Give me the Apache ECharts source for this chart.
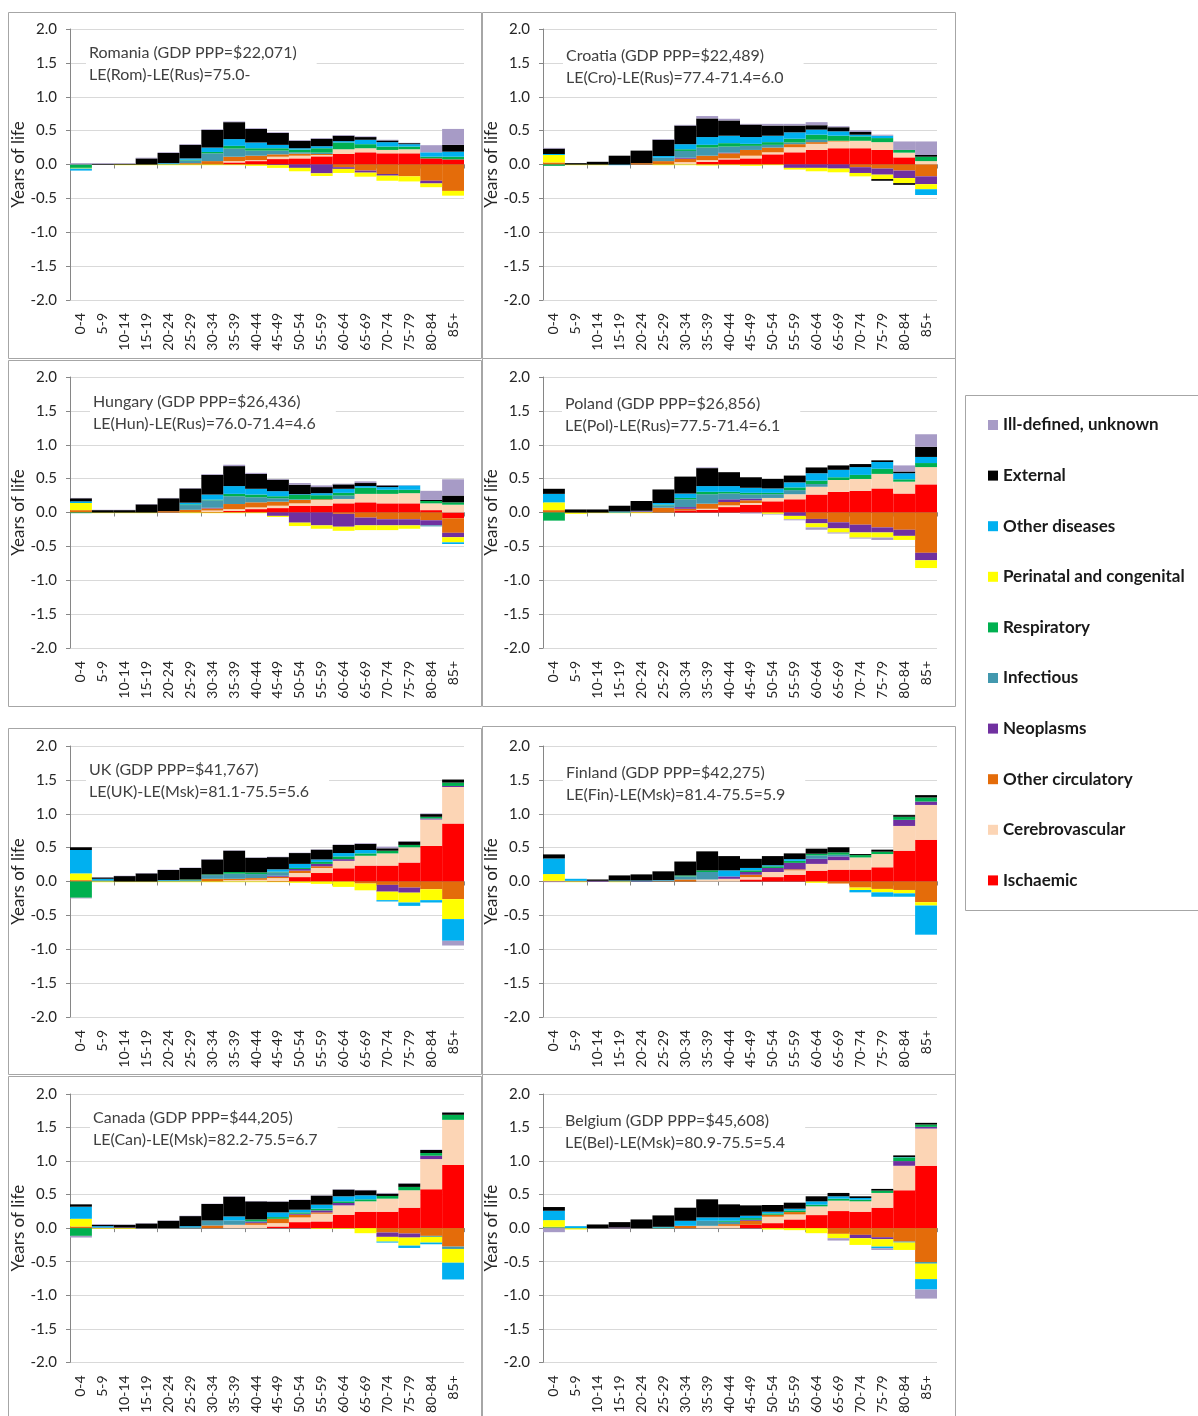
<!DOCTYPE html>
<html>
<head>
<meta charset="utf-8">
<title>Life expectancy gap by age and cause</title>
<script src="https://cdn.jsdelivr.net/npm/echarts@6/dist/echarts.min.js"></script>
<style>
    html, body { margin: 0; padding: 0; background: #fff; }
    #chart { width: 1198px; height: 1416px; }
</style>
</head>
<body>
<div id="chart"></div>
<script>
var ages = ['0-4', '5-9', '10-14', '15-19', '20-24', '25-29', '30-34', '35-39', '40-44',
    '45-49', '50-54', '55-59', '60-64', '65-69', '70-74', '75-79', '80-84', '85+'];

// stacking order, from the zero line outwards
var causes = ['Ischaemic', 'Cerebrovascular', 'Other circulatory', 'Neoplasms', 'Infectious',
    'Respiratory', 'Perinatal and congenital', 'Other diseases', 'External', 'Ill-defined, unknown'];
var causeColors = ['#ff0000', '#fcd5b5', '#e46c0a', '#7030a0', '#4298ae',
    '#00b050', '#ffff00', '#00b0f0', '#000000', '#a79bc6'];

var panelTitles = [
    'Romania (GDP PPP=$22,071)', 'Croatia (GDP PPP=$22,489)',
    'Hungary (GDP PPP=$26,436)', 'Poland (GDP PPP=$26,856)',
    'UK (GDP PPP=$41,767)', 'Finland (GDP PPP=$42,275)',
    'Canada (GDP PPP=$44,205)', 'Belgium (GDP PPP=$45,608)'
];
var panelNotes = [
    'LE(Rom)-LE(Rus)=75.0-', 'LE(Cro)-LE(Rus)=77.4-71.4=6.0',
    'LE(Hun)-LE(Rus)=76.0-71.4=4.6', 'LE(Pol)-LE(Rus)=77.5-71.4=6.1',
    'LE(UK)-LE(Msk)=81.1-75.5=5.6', 'LE(Fin)-LE(Msk)=81.4-75.5=5.9',
    'LE(Can)-LE(Msk)=82.2-75.5=6.7', 'LE(Bel)-LE(Msk)=80.9-75.5=5.4'
];

// rows follow the causes array
var romania = [
    [0, 0, 0, 0, 0, 0, 0, 0.03, 0.05, 0.08, 0.09, 0.12, 0.155, 0.18, 0.165, 0.165, 0.09, 0.075],
    [0, 0, 0, 0, 0, 0, 0, 0.02, 0.015, 0.035, 0.04, 0.02, 0.07, 0.06, 0.05, 0.06, 0, 0],
    [0, 0, 0, 0, 0, 0.02, 0.05, 0.065, 0.065, 0.035, 0.03, 0.015, -0.04, -0.09, -0.14, -0.175, -0.24, -0.39],
    [0, 0, 0, 0, 0, 0, 0, 0, 0, -0.01, -0.05, -0.13, -0.025, -0.03, -0.025, 0, -0.04, 0],
    [0, 0, 0, 0, 0.01, 0.04, 0.115, 0.12, 0.075, 0.055, 0.02, 0.02, 0, 0, 0, 0, 0, 0],
    [-0.05, 0, 0, 0, 0, 0.01, 0.02, 0.04, 0.035, 0.035, 0.04, 0.065, 0.1, 0.06, 0.05, 0.04, 0.025, 0.04],
    [-0.01, 0, -0.01, -0.01, -0.01, -0.01, -0.01, -0.01, -0.02, -0.04, -0.05, -0.04, -0.06, -0.06, -0.075, -0.075, -0.055, -0.07],
    [-0.03, 0, 0, 0, 0.01, 0.02, 0.065, 0.1, 0.085, 0.05, 0.02, 0.03, 0.02, 0.065, 0.065, 0.035, 0.065, 0.075],
    [0, 0.01, 0.01, 0.09, 0.15, 0.2, 0.26, 0.25, 0.2, 0.175, 0.11, 0.11, 0.08, 0.04, 0.025, 0.015, 0, 0.1],
    [0.02, 0.01, 0.01, 0.01, 0.01, 0.01, 0.01, 0.01, 0.01, 0.01, 0.01, 0.01, 0.01, 0.01, 0.01, 0.005, 0.105, 0.235]
];
var croatia = [
    [0, 0, 0, 0, 0, 0, 0, 0.04, 0.075, 0.09, 0.15, 0.18, 0.215, 0.24, 0.24, 0.215, 0.105, 0],
    [0, 0, 0, 0, 0, 0, 0.035, 0.025, 0.015, 0.04, 0.03, 0.075, 0.09, 0.1, 0.11, 0.115, 0.07, 0.05],
    [0.03, 0, 0, 0, 0.02, 0.05, 0.05, 0.065, 0.075, 0.085, 0.07, 0.045, 0.025, 0.01, -0.04, -0.06, -0.09, -0.175],
    [0, 0, 0, 0, 0, 0, 0.015, 0, 0.01, 0, 0, -0.05, -0.05, -0.06, -0.085, -0.09, -0.11, -0.115],
    [0, 0, 0, 0, 0, 0.05, 0.1, 0.12, 0.09, 0.06, 0.04, 0.025, 0.035, 0, 0, 0, 0, 0],
    [-0.02, 0, 0, 0, 0, 0, 0.025, 0.04, 0.05, 0.03, 0.04, 0.055, 0.075, 0.075, 0.065, 0.06, 0.04, 0.065],
    [0.11, -0.01, -0.01, 0, 0, -0.01, -0.01, -0.015, -0.01, -0.02, -0.01, -0.025, -0.05, -0.055, -0.05, -0.065, -0.075, -0.075],
    [0.015, 0, 0, -0.01, 0, 0.025, 0.075, 0.115, 0.11, 0.1, 0.095, 0.095, 0.075, 0.065, 0.025, 0.035, 0, -0.085],
    [0.08, 0.02, 0.04, 0.13, 0.185, 0.24, 0.275, 0.275, 0.225, 0.185, 0.15, 0.1, 0.065, 0.06, 0.04, -0.025, -0.025, 0.025],
    [0.01, 0, 0, 0, 0, 0.01, 0.01, 0.035, 0.025, 0.01, 0.025, 0.025, 0.045, 0.015, 0.025, 0.015, 0.125, 0.2]
];
var hungary = [
    [0, 0, 0, 0, 0, 0, 0.01, 0.025, 0.05, 0.065, 0.1, 0.1, 0.135, 0.15, 0.135, 0.135, 0.035, -0.085],
    [0, 0, 0, 0, 0, 0, 0.02, 0.025, 0.025, 0.035, 0.035, 0.085, 0.065, 0.125, 0.14, 0.15, 0.1, 0.115],
    [0.035, 0, 0, 0, 0.02, 0.04, 0.03, 0.075, 0.075, 0.06, 0.05, 0.01, -0.02, -0.075, -0.1, -0.1, -0.115, -0.215],
    [0, 0, 0, 0, 0, 0, 0.01, 0, 0, -0.05, -0.15, -0.19, -0.19, -0.115, -0.09, -0.09, -0.075, -0.065],
    [0, 0, 0, 0, 0, 0.07, 0.11, 0.115, 0.075, 0.05, 0.01, 0, 0.05, 0, 0, 0, -0.015, 0],
    [-0.01, 0, 0, 0, 0, 0.01, 0.01, 0.035, 0.04, 0.03, 0.065, 0.06, 0.04, 0.09, 0.06, 0.05, 0.035, 0.035],
    [0.105, -0.01, -0.01, -0.01, 0, -0.01, -0.01, -0.01, -0.01, -0.015, -0.05, -0.05, -0.06, -0.07, -0.07, -0.05, 0, -0.075],
    [0.025, 0, 0, 0, 0, 0.025, 0.075, 0.115, 0.085, 0.075, 0.01, 0.03, 0.06, 0.025, 0.04, 0.065, 0, -0.025],
    [0.045, 0.035, 0.035, 0.12, 0.19, 0.21, 0.29, 0.295, 0.22, 0.17, 0.14, 0.09, 0.065, 0.045, 0.025, 0, 0.015, 0.1],
    [0.005, 0.005, 0.005, 0.005, 0.005, 0.005, 0.01, 0.02, 0.015, 0.01, 0.025, 0.025, 0.01, 0.025, 0.005, 0.005, 0.135, 0.24]
];
var poland = [
    [0, 0, 0, 0, 0, 0, 0.03, 0.04, 0.08, 0.115, 0.165, 0.195, 0.265, 0.305, 0.32, 0.355, 0.28, 0.415],
    [0, 0, 0, 0, 0, 0, 0, 0.015, 0.025, 0.025, 0.05, 0.075, 0.115, 0.175, 0.175, 0.215, 0.175, 0.255],
    [0.035, 0, 0, 0, 0.01, 0.07, 0.025, 0.075, 0.05, 0.04, 0, 0, -0.095, -0.145, -0.18, -0.22, -0.255, -0.595],
    [0, 0, 0, 0, 0.01, 0, 0.025, 0, 0.04, 0.025, 0, -0.05, -0.065, -0.09, -0.115, -0.075, -0.09, -0.11],
    [0, 0, 0, 0, 0, 0.035, 0.115, 0.14, 0.085, 0.06, 0.055, 0.06, 0.04, 0, 0, 0, 0, 0],
    [-0.12, 0, 0, 0, 0, 0.01, 0.02, 0.035, 0.025, 0.025, 0.02, 0.04, 0.05, 0.04, 0.06, 0.075, 0.035, 0.06],
    [0.115, -0.02, -0.01, -0.01, -0.01, 0, 0, 0, 0, 0, -0.02, -0.05, -0.06, -0.06, -0.075, -0.075, -0.06, -0.115],
    [0.125, 0, 0, 0.015, 0.005, 0.025, 0.065, 0.085, 0.085, 0.075, 0.065, 0.075, 0.11, 0.11, 0.115, 0.1, 0.09, 0.09],
    [0.075, 0.045, 0.045, 0.085, 0.145, 0.2, 0.25, 0.265, 0.205, 0.155, 0.14, 0.1, 0.085, 0.065, 0.045, 0.025, 0.025, 0.15],
    [0, 0, 0, 0, 0, 0, 0, 0.01, 0, -0.015, -0.01, -0.015, -0.035, -0.015, -0.015, -0.035, 0.09, 0.185]
];
var uk = [
    [0, 0, 0, 0, 0, 0, 0, 0, 0, 0.01, 0.065, 0.125, 0.195, 0.235, 0.235, 0.28, 0.525, 0.855],
    [0, 0, 0, 0, 0, 0, 0, 0.02, 0.025, 0.04, 0.06, 0.075, 0.11, 0.145, 0.18, 0.225, 0.39, 0.54],
    [0.02, 0, 0, 0, 0, 0, 0.04, 0.02, 0.025, 0.02, 0.035, 0.025, 0, -0.03, -0.05, -0.09, -0.115, -0.26],
    [0, 0, 0, 0, 0, 0, 0, 0, 0, 0.015, 0.025, 0.035, 0.025, 0, -0.1, -0.075, 0.015, 0.015],
    [0, 0.02, 0, 0, 0.01, 0.02, 0.055, 0.075, 0.06, 0.05, 0, 0, 0, 0, 0, 0, 0, 0],
    [-0.24, 0, 0, 0, 0, 0.01, 0.01, 0.025, 0.025, 0.01, 0.015, 0.03, 0.04, 0.035, 0.04, 0.035, 0.025, 0.05],
    [0.1, -0.01, -0.01, -0.01, -0.01, -0.01, -0.01, -0.01, -0.01, -0.01, -0.02, -0.035, -0.08, -0.1, -0.125, -0.145, -0.16, -0.295],
    [0.345, 0.02, 0, 0, 0.01, 0, 0, 0, 0, 0.035, 0.06, 0.035, 0.05, 0.05, -0.02, -0.05, -0.035, -0.32],
    [0.04, 0.02, 0.08, 0.12, 0.15, 0.17, 0.22, 0.315, 0.215, 0.18, 0.16, 0.145, 0.12, 0.09, 0.035, 0.05, 0.04, 0.045],
    [-0.01, 0.005, 0.005, 0.005, 0.005, 0.005, 0.005, 0.005, 0.005, 0.005, 0.005, 0.005, 0.005, 0.01, 0.025, 0.005, 0.01, -0.07]
];
var finland = [
    [0, 0, 0, 0, 0, 0, 0, 0, 0, 0.03, 0.065, 0.1, 0.16, 0.175, 0.175, 0.21, 0.455, 0.615],
    [0, 0, 0, 0, 0, 0, 0, 0.03, 0.04, 0.035, 0.075, 0.065, 0.1, 0.14, 0.18, 0.195, 0.365, 0.515],
    [0.01, 0, 0, 0, 0, 0.005, 0.03, 0, 0, 0.035, 0, 0.015, 0, -0.03, -0.09, -0.11, -0.125, -0.305],
    [0, 0.01, 0.01, 0.005, 0.005, 0, 0, 0, 0.035, 0.04, 0.06, 0.095, 0.075, 0.055, 0, 0, 0.09, 0.05],
    [0, 0, 0, 0, 0, 0.01, 0.045, 0.11, 0, 0, 0, 0, 0.05, 0.025, 0, 0, 0, 0],
    [0, 0, 0, 0, 0, 0, 0.015, 0.025, 0, 0.025, 0.025, 0.03, 0.025, 0.035, 0.035, 0.035, 0.045, 0.06],
    [0.1, -0.01, 0, -0.01, 0, 0, 0, 0, 0, 0, 0, 0, -0.02, 0, -0.035, -0.05, -0.05, -0.05],
    [0.23, 0.03, 0, 0.01, 0.01, 0.005, 0, 0, 0.09, 0.035, 0.015, 0.025, 0, 0, -0.035, -0.065, -0.05, -0.43],
    [0.06, 0, 0.02, 0.075, 0.09, 0.13, 0.205, 0.28, 0.21, 0.135, 0.135, 0.085, 0.075, 0.075, 0.015, 0.03, 0.025, 0.035],
    [-0.01, 0, 0, 0, 0, 0, 0, 0, 0, 0, 0, 0, 0, 0, 0, 0, 0, 0]
];
var canada = [
    [0, 0, 0, 0, 0, 0, 0, 0, 0, 0.025, 0.09, 0.1, 0.2, 0.245, 0.245, 0.305, 0.58, 0.94],
    [0, 0, 0, 0, 0, 0, 0, 0.05, 0.05, 0.05, 0.07, 0.115, 0.14, 0.155, 0.195, 0.26, 0.45, 0.675],
    [0.025, 0, 0, 0, 0, 0, 0.04, 0, 0.025, 0.065, 0.04, 0.02, 0, 0, -0.065, -0.08, -0.115, -0.275],
    [0, 0.01, 0.01, 0, 0, 0, 0, 0, 0.015, 0, 0.015, 0.03, 0.035, 0, -0.065, -0.06, 0.05, 0],
    [0, 0, 0, 0, 0, 0.015, 0.075, 0.065, 0.015, 0, 0, 0, 0, 0, 0, 0, -0.015, -0.035],
    [-0.115, 0, 0, 0, 0, 0, 0, 0, 0.025, 0.025, 0.02, 0.025, 0.025, 0.03, 0.04, 0.05, 0.04, 0.075],
    [0.115, -0.01, -0.01, 0, 0, 0, 0, 0, 0, 0, 0, -0.01, -0.01, -0.075, -0.07, -0.12, -0.085, -0.205],
    [0.18, 0.02, 0, 0, 0, 0.015, 0, 0.06, 0, 0.07, 0.04, 0.06, 0.075, 0.06, -0.015, -0.035, -0.025, -0.25],
    [0.035, 0.02, 0.04, 0.07, 0.11, 0.15, 0.245, 0.295, 0.27, 0.16, 0.145, 0.135, 0.1, 0.075, 0.035, 0.05, 0.045, 0.035],
    [-0.025, 0.01, 0.005, 0.005, 0.005, 0.005, 0.005, 0.005, 0.005, 0.005, 0.005, 0.005, 0.005, 0.005, 0.01, 0.005, 0.005, 0.005]
];
var belgium = [
    [0, 0, 0, 0, 0, 0, 0, 0, 0, 0.05, 0.075, 0.13, 0.195, 0.255, 0.245, 0.305, 0.565, 0.93],
    [0, 0, 0, 0, 0, 0, 0, 0.035, 0.035, 0, 0.095, 0.075, 0.13, 0.155, 0.155, 0.22, 0.365, 0.555],
    [0.01, 0, 0, 0, 0, 0, 0.035, 0, 0.025, 0.06, 0.03, 0.035, 0, -0.085, -0.1, -0.135, -0.2, -0.505],
    [0, 0, 0, 0.01, 0, 0, 0, 0, 0, 0.015, 0, 0, 0, 0, -0.05, -0.03, 0.07, 0.025],
    [0, 0, 0, 0, 0, 0, 0, 0.075, 0.035, 0, 0, 0, 0, 0, 0, 0, -0.015, -0.025],
    [0.01, 0, 0, 0, 0, 0.01, 0, 0, 0.015, 0.025, 0.02, 0.025, 0.025, 0.03, 0.025, 0.035, 0.055, 0.035],
    [0.1, -0.02, 0, 0, 0, 0, 0, 0, 0, 0, -0.02, -0.03, -0.075, -0.065, -0.1, -0.11, -0.11, -0.23],
    [0.14, 0.03, 0, 0, 0, 0.01, 0.075, 0.05, 0.05, 0.035, 0.025, 0.025, 0.05, 0.035, 0.025, -0.025, 0.005, -0.155],
    [0.055, 0, 0.055, 0.08, 0.13, 0.17, 0.195, 0.27, 0.195, 0.155, 0.1, 0.09, 0.075, 0.05, 0.025, 0.025, 0.025, 0.025],
    [-0.06, 0, 0, 0, 0, 0, 0, 0, 0, 0, 0, 0, 0, -0.035, 0, -0.025, 0, -0.135]
];
var panelData = [romania, croatia, hungary, poland, uk, finland, canada, belgium];

// layout of the 8 panels: plot area and frame
var gridLefts = [70, 543, 70, 543, 70, 543, 70, 543];
var gridTops = [29, 29, 377, 377, 746, 746, 1094, 1094];
var titleLefts = [86, 563, 90, 562, 86, 563, 90, 562];
var titleTops = [39, 42, 388, 390, 756, 759, 1104, 1107];
var frames = [[8, 12, 473, 346], [482, 12, 473, 346], [8, 360, 473, 346], [482, 358, 473, 348],
    [8, 728, 473, 346], [482, 726, 473, 348], [8, 1076, 473, 340], [482, 1074, 473, 342]];

var fontName = 'Lato',
    textColor = '#262626',
    chart = echarts.init(document.getElementById('chart')),
    grids = [], xAxes = [], yAxes = [], titles = [], series = [], graphics = [],
    i, c;

for (i = 0; i < panelData.length; i++) {
    grids.push({
        left: gridLefts[i],
        top: gridTops[i],
        width: 394,
        height: i < 6 ? 271 : 270
    });
    // axis line at zero, with ticks between categories
    xAxes.push({
        type: 'category',
        gridIndex: i,
        position: 'bottom',
        data: ages,
        axisLine: { onZero: true, lineStyle: { color: '#868686' } },
        axisTick: { show: true, length: 4, lineStyle: { color: '#868686' } },
        axisLabel: { show: false },
        splitLine: { show: false }
    });
    // labels stay at the bottom of the plot
    xAxes.push({
        type: 'category',
        gridIndex: i,
        position: 'bottom',
        data: ages,
        axisLine: { show: false, onZero: false },
        axisTick: { show: false },
        axisLabel: {
            interval: 0,
            rotate: 90,
            margin: 13,
            fontSize: 14,
            fontFamily: fontName,
            color: textColor
        }
    });
    yAxes.push({
        type: 'value',
        gridIndex: i,
        min: -2,
        max: 2,
        interval: 0.5,
        name: 'Years of life',
        nameLocation: 'middle',
        nameGap: 35,
        nameTextStyle: { fontSize: 17, fontFamily: fontName, color: textColor },
        axisLine: { show: true, lineStyle: { color: '#868686' } },
        axisTick: { show: true, length: 4, lineStyle: { color: '#868686' } },
        axisLabel: {
            margin: 13,
            fontSize: 15,
            fontFamily: fontName,
            color: textColor,
            formatter: function (v) { return v.toFixed(1); }
        },
        splitLine: { lineStyle: { color: '#d9d9d9' } }
    });
    titles.push({
        text: panelTitles[i] + '\n' + panelNotes[i],
        left: titleLefts[i],
        top: titleTops[i],
        padding: [3, 20, 3, 3],
        backgroundColor: '#fff',
        textStyle: {
            fontSize: 16,
            fontWeight: 'normal',
            fontFamily: fontName,
            color: '#404040',
            lineHeight: 22
        }
    });
    for (c = 0; c < causes.length; c++) {
        series.push({
            name: causes[c],
            type: 'bar',
            xAxisIndex: i * 2,
            yAxisIndex: i,
            stack: 'panel' + i,
            barCategoryGap: '0%',
            itemStyle: { color: causeColors[c] },
            data: panelData[i][c]
        });
    }
    graphics.push({
        type: 'rect',
        shape: { x: frames[i][0] + 0.5, y: frames[i][1] + 0.5, width: frames[i][2], height: frames[i][3] },
        style: { fill: null, stroke: '#a6a6a6', lineWidth: 1 },
        silent: true
    });
}

// frame round the legend
graphics.push({
    type: 'rect',
    shape: { x: 965.5, y: 395.5, width: 240, height: 515 },
    style: { fill: null, stroke: '#a6a6a6', lineWidth: 1 },
    silent: true
});

chart.setOption({
    animation: false,
    textStyle: { fontFamily: fontName },
    title: titles,
    legend: {
        orient: 'vertical',
        left: 988,
        top: 416,
        padding: 0,
        icon: 'rect',
        itemWidth: 10,
        itemHeight: 10,
        itemGap: 32.6,
        selectedMode: false,
        data: causes.slice().reverse(),
        textStyle: {
            fontSize: 17,
            fontWeight: 'bold',
            fontFamily: fontName,
            color: '#1a1a1a',
            lineHeight: 18
        }
    },
    grid: grids,
    xAxis: xAxes,
    yAxis: yAxes,
    series: series,
    graphic: graphics
});
</script>
</body>
</html>
